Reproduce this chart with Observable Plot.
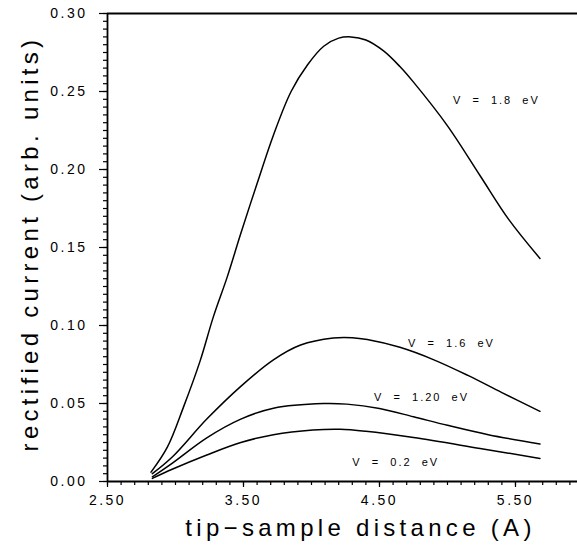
<!DOCTYPE html>
<html><head><meta charset="utf-8">
<script src="https://cdn.jsdelivr.net/npm/d3@7"></script>
<script src="https://cdn.jsdelivr.net/npm/@observablehq/plot@0.6"></script>
<style>
html,body{margin:0;padding:0;background:#fff;}
svg text{white-space:pre;}
svg g[font-size="14"] text{letter-spacing:2.5px;}
svg g[font-size="11"] text{letter-spacing:2px;}
svg g[font-size="24"] text{letter-spacing:4.3px;}
</style>
</head><body>
<div id="chart"></div>
<script>
// Data
const x18 = [2.82, 2.94, 3.06, 3.18, 3.28, 3.38, 3.48, 3.60, 3.72, 3.85, 3.97, 4.09, 4.20, 4.29, 4.40, 4.53, 4.65, 4.75, 5.00, 5.24, 5.45, 5.68];
const y18 = [0.006, 0.022, 0.048, 0.077, 0.106, 0.131, 0.159, 0.191, 0.222, 0.250, 0.267, 0.279, 0.2842, 0.2850, 0.2830, 0.276, 0.266, 0.256, 0.228, 0.196, 0.168, 0.143];
const x16 = [2.83, 2.98, 3.23, 3.48, 3.72, 3.92, 4.16, 4.30, 4.41, 4.65, 4.90, 5.15, 5.40, 5.68];
const y16 = [0.005, 0.016, 0.040, 0.061, 0.078, 0.0875, 0.0920, 0.0922, 0.0910, 0.0860, 0.078, 0.068, 0.057, 0.045];
const x12 = [2.83, 2.98, 3.23, 3.48, 3.72, 4.09, 4.26, 4.50, 4.75, 5.00, 5.30, 5.68];
const y12 = [0.003, 0.012, 0.028, 0.040, 0.047, 0.0500, 0.0496, 0.0468, 0.0415, 0.0360, 0.0300, 0.0240];
const x02 = [2.83, 2.98, 3.23, 3.48, 3.72, 4.01, 4.21, 4.40, 4.75, 5.24, 5.68];
const y02 = [0.002, 0.008, 0.017, 0.025, 0.030, 0.0330, 0.0335, 0.0322, 0.0282, 0.0212, 0.0148];

const seriesNames = ["V  =  1.8  eV", "V  =  1.6  eV", "V  =  1.20  eV", "V  =  0.2  eV"];
const labelX = [5.04, 4.71, 4.46, 4.30];
const labelY = [0.244, 0.0887, 0.0537, 0.0124];

const xTicks = [2.5, 3.5, 4.5, 5.5];
const yTicks = [0, 0.05, 0.10, 0.15, 0.20, 0.25, 0.30];
const xMinor = d3.range(25, 60).map(d => d / 10);
const yMinor = d3.range(0, 61).map(d => d / 200);

const xTitle = "tip−sample distance (A)";
const yTitle = "rectified current (arb. units)";

const rows = [];
[[x18, y18], [x16, y16], [x12, y12], [x02, y02]].forEach(([xs, ys], i) => {
  xs.forEach((x, j) => rows.push({s: seriesNames[i], x, y: ys[j]}));
});
const labels = seriesNames.map((s, i) => ({s, x: labelX[i], y: labelY[i]}));

const font = "'Liberation Sans', Arial, sans-serif";

const chart = Plot.plot({
  width: 577, height: 551,
  marginLeft: 107, marginRight: 0, marginTop: 13, marginBottom: 70,
  x: {domain: [2.5, 5.956]},
  y: {domain: [0, 0.3]},
  style: {fontFamily: font, background: "#fff", color: "#000"},
  marks: [
    Plot.axisX(xMinor, {tickSize: 4, tickFormat: () => "", label: null, strokeWidth: 1.2}),
    Plot.axisX(xTicks, {tickSize: 6, tickFormat: d3.format(".2f"), label: null, fontSize: 14, tickPadding: 8, strokeWidth: 1.2}),
    Plot.axisY(yMinor, {tickSize: 4, tickFormat: () => "", label: null, strokeWidth: 1.2}),
    Plot.axisY(yTicks, {tickSize: 8, tickFormat: d3.format(".2f"), label: null, fontSize: 14, tickPadding: 12, strokeWidth: 1.2}),
    Plot.ruleX([2.5], {strokeWidth: 1.8}),
    Plot.ruleY([0], {strokeWidth: 1.8}),
    Plot.ruleY([0.3], {strokeWidth: 1.8}),
    Plot.line(rows, {x: "x", y: "y", z: "s", curve: "catmull-rom", stroke: "#000", strokeWidth: 1.5}),
    Plot.text(labels, {x: "x", y: "y", text: "s", textAnchor: "start", fontSize: 11, fill: "#000"}),
    Plot.text([xTitle], {frameAnchor: "bottom", dy: 54, dx: 18, fontSize: 24, fill: "#000"}),
    Plot.text([yTitle], {frameAnchor: "left", dx: -77, dy: -4, rotate: -90, textAnchor: "middle", fontSize: 24, fill: "#000"})
  ]
});
document.getElementById("chart").appendChild(chart);
</script>
</body></html>
